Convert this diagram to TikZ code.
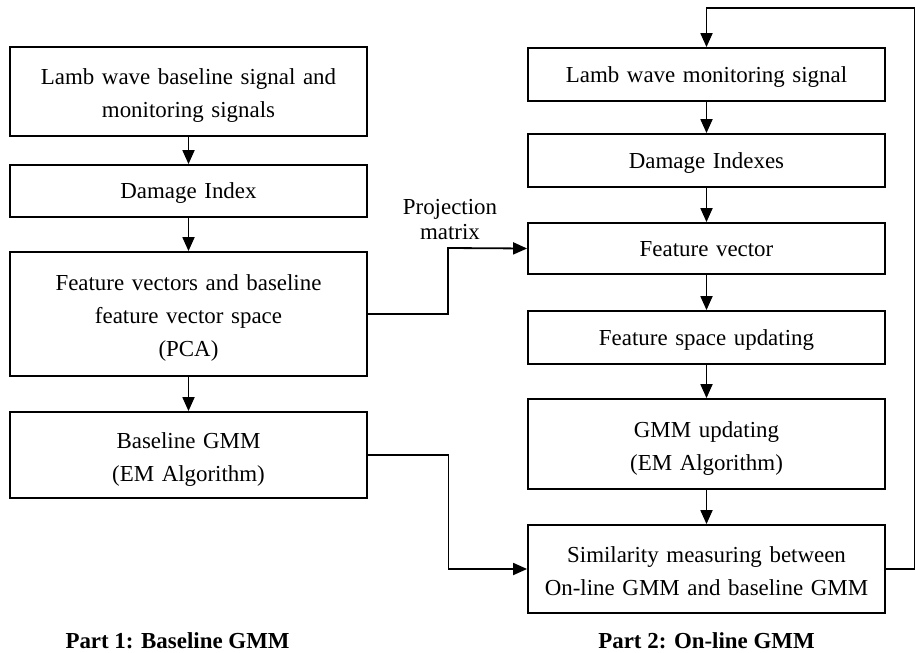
\documentclass[tikz,border=0pt]{standalone}
\usepackage{fontspec}
\setmainfont{Liberation Serif}
\usetikzlibrary{arrows.meta}

\tikzset{
  stage/.style={draw, line width=1.8bp, minimum width=357bp, text width=345bp, align=center, inner sep=0pt,
    text depth=-4bp, font=\fontsize{23}{33}\selectfont},
  two lines/.style={text depth=29bp},
  three lines/.style={text depth=62bp},
  flow/.style={line width=1.8bp, -{Triangle[length=14bp,width=12bp]}}
}

\begin{document}
\begin{tikzpicture}[x=1bp, y=-1bp]
 \useasboundingbox (0,0) rectangle (915,653);
 % part 1
 \node[stage, two lines, minimum height=89bp]    (lamb)  at (188.5,91.5) {Lamb wave baseline signal and\\monitoring signals};
 \node[stage, minimum height=52bp]               (di)    at (188.5,191)  {Damage Index};
 \node[stage, three lines, minimum height=124bp] (fvs)   at (188.5,314)  {Feature vectors and baseline\\feature vector space\\(PCA)};
 \node[stage, two lines, minimum height=86bp]    (bgmm)  at (188.5,455)  {Baseline GMM\\(EM Algorithm)};
 % part 2
 \node[stage, minimum height=53bp]               (mon)   at (706.5,74.5)  {Lamb wave monitoring signal};
 \node[stage, minimum height=53bp]               (dis)   at (706.5,160.5) {Damage Indexes};
 \node[stage, minimum height=51bp]               (fv)    at (706.5,248.5) {Feature vector};
 \node[stage, minimum height=53bp]               (fsu)   at (706.5,337.5) {Feature space updating};
 \node[stage, two lines, minimum height=90bp]    (gmmu)  at (706.5,444)   {GMM updating\\(EM Algorithm)};
 \node[stage, two lines, minimum height=88bp]    (sim)   at (706.5,569)   {Similarity measuring between\\On-line GMM and baseline GMM};
 \node[font=\bfseries\fontsize{23}{26}\selectfont, anchor=base] (p1) at (177.5,648) {Part 1: Baseline GMM};
 \node[font=\bfseries\fontsize{23}{26}\selectfont, anchor=base] (p2) at (706.5,648) {Part 2: On-line GMM};
 \coordinate (loop) at (915,8);
 \coordinate (bend) at (448,248);

 \path[flow]
  (lamb) edge (di)
  (di) edge (fvs)
  (fvs) edge (bgmm)
  (mon) edge (dis)
  (dis) edge (fv)
  (fv) edge (fsu)
  (fsu) edge (gmmu)
  (gmmu) edge (sim);
 \draw[flow] (fvs.east) -| (bend) -- (fv.west);
 \draw[flow] (bgmm.east) -- ++(80.5,0) |- (sim.west);
 \draw[flow] (sim.east) -| (loop) -| (mon.north);
 \node[anchor=south, align=center, inner sep=3bp, yshift=5bp, font=\fontsize{23}{25}\selectfont] (proj) at ([xshift=2bp]bend) {Projection\\matrix};
\end{tikzpicture}
\end{document}
